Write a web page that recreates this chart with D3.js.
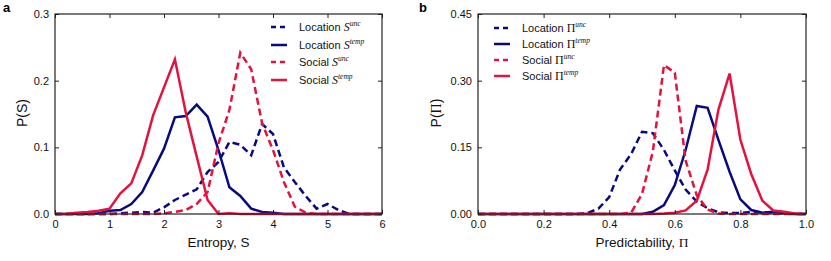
<!DOCTYPE html>
<html>
<head>
<meta charset="utf-8">
<script src="https://cdn.jsdelivr.net/npm/d3@7"></script>
<style>
  body { margin: 0; background: #fff; }
  svg text { font-family: "Liberation Sans", Arial, sans-serif; }
</style>
</head>
<body>
<div id="chart"></div>
<script>
// panel a: entropy distributions (bins of 0.2)
const entropyX = [0, 0.2, 0.4, 0.6, 0.8, 1.0, 1.2, 1.4, 1.6, 1.8, 2.0, 2.2, 2.4, 2.6, 2.8, 3.0,
                  3.2, 3.4, 3.6, 3.8, 4.0, 4.2, 4.4, 4.6, 4.8, 5.0, 5.2, 5.4, 5.6, 5.8, 6.0];
const locSUnc  = [0, 0, 0, 0, 0, 0, 0.001, 0.002, 0.003, 0.002, 0.01, 0.021, 0.029, 0.037, 0.063, 0.078,
                  0.108, 0.104, 0.088, 0.135, 0.12, 0.07, 0.048, 0.027, 0.008, 0.015, 0.006, 0, 0, 0, 0];
const locSTemp = [0, 0, 0, 0, 0.001, 0.005, 0.006, 0.015, 0.033, 0.065, 0.098, 0.145, 0.147, 0.164, 0.146, 0.096,
                  0.04, 0.027, 0.008, 0.003, 0.002, 0, 0, 0, 0, 0, 0, 0, 0, 0, 0];
const socSUnc  = [0, 0, 0, 0, 0, 0, 0, 0, 0, 0, 0.001, 0.003, 0.006, 0.015, 0.033, 0.106,
                  0.156, 0.242, 0.217, 0.136, 0.096, 0.048, 0.011, 0.002, 0, 0, 0, 0, 0, 0, 0];
const socSTemp = [0, 0, 0.002, 0.003, 0.005, 0.008, 0.031, 0.046, 0.088, 0.148, 0.19, 0.232, 0.152, 0.086, 0.021, 0,
                  0.001, 0, 0, 0, 0, 0, 0, 0, 0, 0, 0, 0, 0, 0, 0];

// panel b: predictability distributions (bins of 1/30)
const predX = [0, 0.033, 0.067, 0.1, 0.133, 0.167, 0.2, 0.233, 0.267, 0.3, 0.333, 0.367, 0.4, 0.433, 0.467, 0.5,
               0.533, 0.567, 0.6, 0.633, 0.667, 0.7, 0.733, 0.767, 0.8, 0.833, 0.867, 0.9, 0.933, 0.967, 1.0];
const locPUnc  = [0, 0, 0, 0, 0, 0, 0, 0, 0, 0, 0.002, 0.012, 0.038, 0.1, 0.135, 0.185,
                  0.182, 0.144, 0.098, 0.055, 0.028, 0.013, 0.004, 0.002, 0.002, 0.005, 0.004, 0.003, 0.001, 0, 0];
const locPTemp = [0, 0, 0, 0, 0, 0, 0, 0, 0, 0, 0, 0, 0, 0, 0, 0,
                  0.005, 0.02, 0.065, 0.144, 0.243, 0.239, 0.167, 0.095, 0.033, 0.009, 0.003, 0.005, 0.002, 0, 0];
const socPUnc  = [0, 0, 0, 0, 0, 0, 0, 0, 0, 0, 0, 0, 0, 0, 0.003, 0.045,
                  0.14, 0.335, 0.318, 0.12, 0.042, 0.01, 0.001, 0, 0, 0, 0, 0, 0, 0, 0];
const socPTemp = [0, 0, 0, 0, 0, 0, 0, 0, 0, 0, 0, 0, 0, 0, 0, 0,
                  0, 0.001, 0.003, 0.008, 0.03, 0.1, 0.235, 0.316, 0.167, 0.09, 0.03, 0.008, 0.005, 0.001, 0];

const entropyXTicks = [0, 1, 2, 3, 4, 5, 6];
const entropyYTicks = [0, 0.1, 0.2, 0.3];
const predXTicks = [0, 0.2, 0.4, 0.6, 0.8, 1.0];
const predYTicks = [0, 0.15, 0.30, 0.45];

const BLUE = '#0a0a80';
const RED = '#e3133f';

const svg = d3.select('#chart').append('svg')
    .attr('width', 831)
    .attr('height', 261);

function drawPanel(opts) {
    const x = d3.scaleLinear().domain(opts.xDomain).range([opts.left, opts.right]);
    const y = d3.scaleLinear().domain(opts.yDomain).range([214, 14]);
    const g = svg.append('g');

    const line = d3.line().x(d => x(d[0])).y(d => y(d[1]));

    opts.series.forEach(s => {
        g.append('path')
            .datum(opts.xs.map((v, i) => [v, s.values[i]]))
            .attr('d', line)
            .attr('fill', 'none')
            .attr('stroke', s.color)
            .attr('stroke-width', 2.5)
            .attr('stroke-dasharray', s.dashed ? '7,4' : null);
    });

    // axes with inward ticks on all sides
    const bottom = g.append('g').attr('transform', `translate(0,214)`)
        .call(d3.axisBottom(x).tickValues(opts.xTicks).tickFormat(opts.xFmt).tickSizeInner(-4).tickSizeOuter(0).tickPadding(6));
    const top = g.append('g').attr('transform', `translate(0,14)`)
        .call(d3.axisTop(x).tickValues(opts.xTicks).tickFormat('').tickSizeInner(-4).tickSizeOuter(0));
    const leftAx = g.append('g').attr('transform', `translate(${opts.left},0)`)
        .call(d3.axisLeft(y).tickValues(opts.yTicks).tickFormat(opts.yFmt).tickSizeInner(-4).tickSizeOuter(0).tickPadding(6));
    const rightAx = g.append('g').attr('transform', `translate(${opts.right},0)`)
        .call(d3.axisRight(y).tickValues(opts.yTicks).tickFormat('').tickSizeInner(-4).tickSizeOuter(0));
    [bottom, top, leftAx, rightAx].forEach(a => {
        a.select('.domain').remove();
        a.selectAll('line').attr('stroke', '#222');
        a.selectAll('text').attr('font-size', 11).attr('fill', '#111')
            .attr('font-family', '"Liberation Sans", Arial, sans-serif');
    });

    g.append('rect')
        .attr('x', opts.left).attr('y', 14)
        .attr('width', opts.right - opts.left).attr('height', 200)
        .attr('fill', 'none').attr('stroke', '#222').attr('stroke-width', 1.2);

    // panel letter
    g.append('text').attr('x', opts.letterX).attr('y', 12)
        .attr('font-size', 13).attr('font-weight', 'bold').text(opts.letter);

    // axis labels
    const xl = g.append('text').attr('x', (opts.left + opts.right) / 2).attr('y', 247)
        .attr('text-anchor', 'middle').attr('font-size', 13.5).attr('fill', '#111');
    xl.append('tspan').text(opts.xLabel);
    xl.append('tspan').attr('font-family', '"Liberation Serif", "DejaVu Serif", serif').text(opts.xSym);

    const yl = g.append('text')
        .attr('transform', `translate(${opts.yLabelX},113) rotate(-90)`)
        .attr('text-anchor', 'middle').attr('font-size', 14).attr('fill', '#111');
    yl.append('tspan').text('P(');
    yl.append('tspan').attr('font-family', opts.ySerif ? '"Liberation Serif", serif' : null).text(opts.ySym);
    yl.append('tspan').text(')');

    // legend
    opts.series.forEach((s, i) => {
        const ly = opts.legendY[i];
        g.append('line')
            .attr('x1', opts.legendX).attr('x2', opts.legendX + 16)
            .attr('y1', ly).attr('y2', ly)
            .attr('stroke', s.color).attr('stroke-width', 2.5)
            .attr('stroke-dasharray', s.dashed ? '5,4' : null);
        const t = g.append('text').attr('x', opts.legendX + 28).attr('y', ly + 4)
            .attr('font-size', 11).attr('fill', '#111');
        t.append('tspan').text(s.name + ' ');
        t.append('tspan')
            .attr('font-family', '"Liberation Serif", "DejaVu Serif", serif')
            .attr('font-style', opts.symItalic ? 'italic' : 'normal')
            .attr('font-size', 12)
            .text(opts.sym);
        t.append('tspan')
            .attr('font-family', '"Liberation Serif", "DejaVu Serif", serif')
            .attr('font-style', 'italic')
            .attr('font-size', 7.5)
            .attr('dy', -5)
            .text(s.sup);
    });
}

drawPanel({
    left: 55, right: 382, letterX: 3, letter: 'a',
    xDomain: [0, 6], yDomain: [0, 0.3],
    xTicks: entropyXTicks, yTicks: entropyYTicks,
    xFmt: d3.format('d'), yFmt: d3.format('.1f'),
    xs: entropyX,
    xLabel: 'Entropy, S', xSym: '',
    yLabelX: 27, ySym: 'S', ySerif: false,
    sym: 'S', symItalic: true,
    legendX: 271, legendY: [27, 45, 62, 80],
    series: [
        { name: 'Location', sup: 'unc', values: locSUnc, color: BLUE, dashed: true },
        { name: 'Location', sup: 'temp', values: locSTemp, color: BLUE, dashed: false },
        { name: 'Social', sup: 'unc', values: socSUnc, color: RED, dashed: true },
        { name: 'Social', sup: 'temp', values: socSTemp, color: RED, dashed: false }
    ]
});

drawPanel({
    left: 478, right: 806, letterX: 419, letter: 'b',
    xDomain: [0, 1], yDomain: [0, 0.45],
    xTicks: predXTicks, yTicks: predYTicks,
    xFmt: d3.format('.1f'), yFmt: d3.format('.2f'),
    xs: predX,
    xLabel: 'Predictability, ', xSym: 'Π',
    yLabelX: 441, ySym: 'Π', ySerif: true,
    sym: 'Π', symItalic: false,
    legendX: 494, legendY: [28, 44, 60, 76],
    series: [
        { name: 'Location', sup: 'unc', values: locPUnc, color: BLUE, dashed: true },
        { name: 'Location', sup: 'temp', values: locPTemp, color: BLUE, dashed: false },
        { name: 'Social', sup: 'unc', values: socPUnc, color: RED, dashed: true },
        { name: 'Social', sup: 'temp', values: socPTemp, color: RED, dashed: false }
    ]
});
</script>
</body>
</html>
